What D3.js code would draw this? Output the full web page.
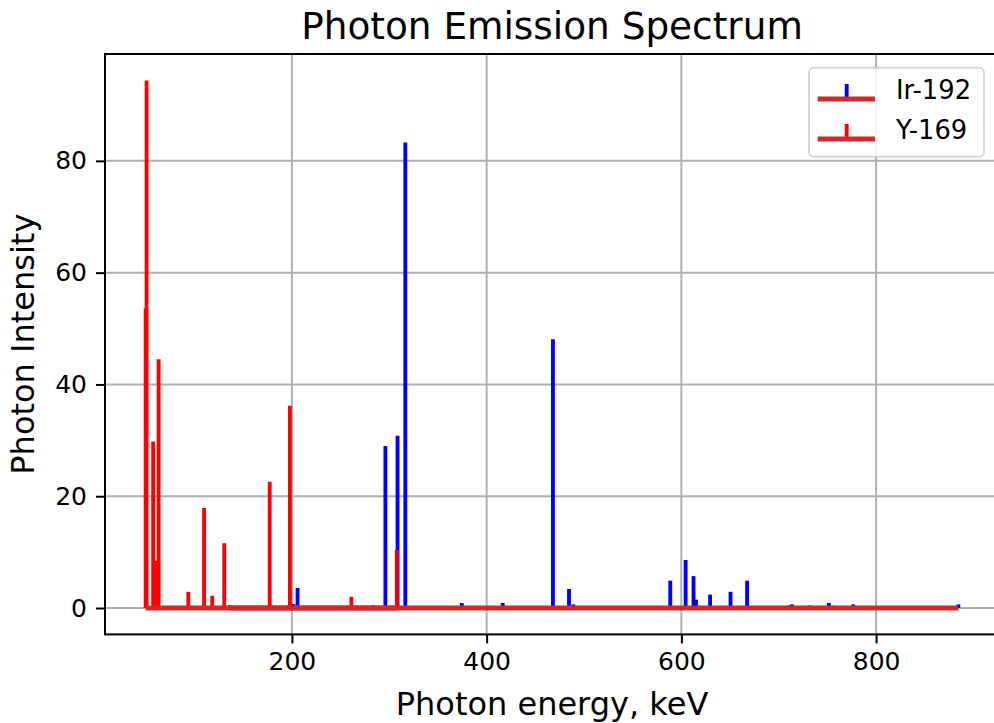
<!DOCTYPE html>
<html>
<head>
<meta charset="utf-8">
<script src="https://cdn.jsdelivr.net/npm/d3@7"></script>
<style>
  html, body { margin: 0; padding: 0; background: #fff; overflow: hidden; }
  svg { display: block; }
  text { font-family: "DejaVu Sans", sans-serif; fill: #000; }
</style>
</head>
<body>
<script>
// Ir-192 lines (energy keV, intensity)
const irEnergy = [136.3, 201.3, 205.8, 283.3, 296.0, 308.5, 316.5, 374.5, 416.5, 468.1,
                  484.6, 489.1, 588.6, 604.4, 612.5, 615.0, 629.5, 650.5, 667.5, 710.5,
                  713.5, 732.0, 751.5, 755.5, 776.5, 884.5];
const irIntensity = [0.5, 0.7, 3.6, 0.5, 29.0, 30.8, 83.3, 0.9, 0.9, 48.1,
                     3.4, 0.65, 4.9, 8.6, 5.7, 1.5, 2.4, 2.9, 4.9, 0.45,
                     0.65, 0.45, 0.9, 0.4, 0.65, 0.65];

// Y-169 lines
const ybEnergy = [49.77, 50.74, 57.5, 59.4, 63.12, 93.6, 109.78, 118.19, 130.52, 177.21, 197.96, 261.08, 307.74];
const ybIntensity = [53.6, 94.4, 29.8, 8.5, 44.5, 2.9, 17.9, 2.2, 11.6, 22.6, 36.2, 2.0, 10.4];

const xTicks = [200, 400, 600, 800];
const yTicks = [0, 20, 40, 60, 80];

const width = 994, height = 723;
const plotLeft = 105, plotRight = 999, plotTop = 54, plotBottom = 634.4;

const svg = d3.select("body").append("svg")
    .attr("width", width)
    .attr("height", height);

svg.append("rect").attr("width", width).attr("height", height).attr("fill", "#fff");

// matplotlib style 5% margins around the data
const allX = irEnergy.concat(ybEnergy);
const xMin = d3.min(allX), xMax = d3.max(allX);
const xPad = (xMax - xMin) * 0.05;
const yMax = d3.max(irIntensity.concat(ybIntensity));
const yPad = yMax * 0.05;

const x = d3.scaleLinear().domain([xMin - xPad, xMax + xPad]).range([plotLeft, plotRight]);
const y = d3.scaleLinear().domain([-yPad, yMax + yPad]).range([plotBottom, plotTop]);

// grid
const grid = svg.append("g").attr("stroke", "#b0b0b0").attr("stroke-width", 2);
grid.selectAll(".gx").data(xTicks).enter().append("line")
    .attr("x1", d => x(d)).attr("x2", d => x(d))
    .attr("y1", plotTop).attr("y2", plotBottom);
grid.selectAll(".gy").data(yTicks).enter().append("line")
    .attr("x1", plotLeft).attr("x2", plotRight)
    .attr("y1", d => y(d)).attr("y2", d => y(d));

// stem plot helper: stems first then baseline on top
function stem(energy, intensity, color) {
    const data = energy.map((e, i) => ({ e: e, v: intensity[i] }));
    svg.append("g").selectAll("line").data(data).enter().append("line")
        .attr("x1", d => x(d.e)).attr("x2", d => x(d.e))
        .attr("y1", y(0)).attr("y2", d => y(d.v))
        .attr("stroke", color)
        .attr("stroke-width", 3.85);
    svg.append("line")
        .attr("x1", x(d3.min(energy))).attr("x2", x(d3.max(energy)))
        .attr("y1", y(0)).attr("y2", y(0))
        .attr("stroke", "#d62728")
        .attr("stroke-width", 5);
}

stem(irEnergy, irIntensity, "#0000ff");
stem(ybEnergy, ybIntensity, "#ff0000");

// axes
const xAxis = svg.append("g")
    .attr("transform", `translate(0,${plotBottom})`)
    .call(d3.axisBottom(x).tickValues(xTicks).tickSizeInner(9).tickSizeOuter(0).tickPadding(9));
const yAxis = svg.append("g")
    .attr("transform", `translate(${plotLeft},0)`)
    .call(d3.axisLeft(y).tickValues(yTicks).tickSizeInner(9).tickSizeOuter(0).tickPadding(9));

[xAxis, yAxis].forEach(a => {
    a.selectAll("line").attr("stroke", "#000").attr("stroke-width", 2);
    a.select(".domain").remove();
    a.selectAll("text").style("font-size", "25px").attr("font-family", null);
});
xAxis.selectAll("text").attr("dy", "0.71em");

// spines (right one falls just outside the picture)
svg.append("rect")
    .attr("x", plotLeft).attr("y", plotTop)
    .attr("width", plotRight - plotLeft).attr("height", plotBottom - plotTop)
    .attr("fill", "none").attr("stroke", "#000").attr("stroke-width", 2);

// title and labels
svg.append("text")
    .attr("x", (plotLeft + plotRight) / 2).attr("y", 39)
    .attr("text-anchor", "middle")
    .style("font-size", "37.4px")
    .text("Photon Emission Spectrum");

svg.append("text")
    .attr("x", (plotLeft + plotRight) / 2).attr("y", 715)
    .attr("text-anchor", "middle")
    .style("font-size", "32px")
    .text("Photon energy, keV");

svg.append("text")
    .attr("transform", `translate(34,${(plotTop + plotBottom) / 2}) rotate(-90)`)
    .attr("text-anchor", "middle")
    .style("font-size", "32px")
    .text("Photon Intensity");

// legend
const legend = svg.append("g");
legend.append("rect")
    .attr("x", 809).attr("y", 67.7)
    .attr("width", 175).attr("height", 89)
    .attr("rx", 5)
    .attr("fill", "rgba(255,255,255,0.8)")
    .attr("stroke", "rgba(204,204,204,0.8)")
    .attr("stroke-width", 2);

const legendItems = [
    { label: "Ir-192", color: "#0000ff", yy: 99 },
    { label: "Y-169", color: "#ff0000", yy: 139 }
];
legendItems.forEach(it => {
    legend.append("line")
        .attr("x1", 846.7).attr("x2", 846.7)
        .attr("y1", it.yy).attr("y2", it.yy - 15)
        .attr("stroke", it.color).attr("stroke-width", 3.85);
    legend.append("line")
        .attr("x1", 817.7).attr("x2", 875)
        .attr("y1", it.yy).attr("y2", it.yy)
        .attr("stroke", "#d62728").attr("stroke-width", 5);
    legend.append("text")
        .attr("x", 896).attr("y", it.yy)
        .style("font-size", "25.8px")
        .text(it.label);
});
</script>
</body>
</html>
